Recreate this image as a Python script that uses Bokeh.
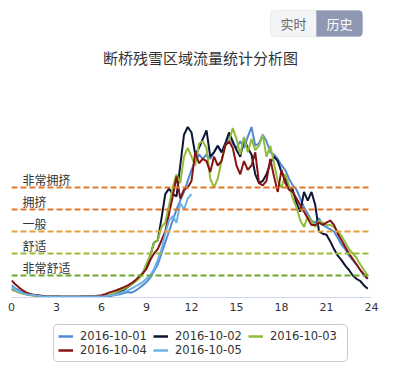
from bokeh.plotting import figure
from bokeh.layouts import column
from bokeh.models import Range1d, Span, Label, BoxAnnotation, Legend, LegendItem, FixedTicker
from bokeh.embed import file_html
from bokeh.resources import INLINE
from bokeh.core.properties import value

# ---------------- data ----------------
series_names = ["2016-10-01", "2016-10-02", "2016-10-03", "2016-10-04", "2016-10-05"]
series_colors = ["#5289d4", "#0c1633", "#92bb3c", "#861313", "#6cb2e6"]

# quarter-hour sample times 0:00 .. 23:45
hours = [i / 4 for i in range(96)]

# visitor flow (thousands)
flow_1001 = [0.55, 0.42, 0.32, 0.24, 0.18, 0.14, 0.11, 0.09, 0.07, 0.06, 0.05, 0.04, 0.04, 0.03,
             0.03, 0.03, 0.03, 0.03, 0.03, 0.03, 0.03, 0.03, 0.04, 0.04, 0.05, 0.06, 0.07, 0.09,
             0.12, 0.15, 0.2, 0.25, 0.22, 0.3, 0.42, 0.55, 0.7, 0.9, 1.2, 1.5,
             2.0, 2.5, 3.0, 3.5, 4.0, 4.4, 4.8, 5.3, 5.8, 6.2, 6.5, 6.3, 6.5, 6.3, 6.6, 6.9,
             6.6, 6.9, 7.4, 7.0, 6.8, 7.1, 6.8, 7.3, 7.75, 6.9, 7.0, 7.4, 7.1, 6.6, 6.5, 6.3,
             6.0, 5.8, 5.4, 5.1, 4.9, 4.5, 4.1, 3.8, 3.5, 3.4, 3.6, 3.3, 3.2, 3.1, 3.0, 2.7,
             2.4, 2.2, 1.9, 1.7, 1.5, 1.25, 1.0, 0.85]
flow_1002 = [0.38, 0.3, 0.24, 0.2, 0.15, 0.12, 0.1, 0.08, 0.06, 0.05, 0.04, 0.04, 0.03, 0.03,
             0.03, 0.03, 0.03, 0.03, 0.03, 0.03, 0.03, 0.03, 0.04, 0.04, 0.05, 0.06, 0.08, 0.12,
             0.2, 0.28, 0.36, 0.48, 0.6, 0.75, 0.9, 1.1, 1.45, 1.9, 2.5, 2.6,
             3.6, 4.7, 4.95, 4.7, 4.6, 6.0, 7.4, 7.75, 7.5, 6.5, 6.8, 7.2, 7.6, 6.4, 6.6, 6.9,
             6.6, 7.0, 7.5, 7.1, 6.7, 6.4, 7.2, 6.8, 6.5, 5.6, 5.2, 5.3, 5.6, 6.1, 6.4, 6.2,
             5.7, 5.4, 5.0, 4.9, 4.3, 3.9, 4.8, 4.4, 4.8, 4.2, 3.0, 2.9, 2.85, 2.55, 2.2, 1.9,
             1.7, 1.45, 1.25, 1.0, 0.85, 0.75, 0.55, 0.4]
flow_1003 = [0.4, 0.3, 0.22, 0.17, 0.13, 0.1, 0.08, 0.07, 0.06, 0.05, 0.04, 0.04, 0.03, 0.03,
             0.03, 0.03, 0.03, 0.03, 0.03, 0.03, 0.03, 0.03, 0.04, 0.05, 0.06, 0.08, 0.12, 0.18,
             0.25, 0.32, 0.4, 0.5, 0.6, 0.72, 0.85, 1.1, 1.55, 1.9, 2.5, 2.6,
             3.2, 3.4, 4.2, 5.0, 5.6, 5.2, 6.4, 6.8, 6.4, 6.0, 7.0, 7.1, 6.8, 5.4, 5.0, 5.4,
             6.2, 6.9, 7.1, 7.7, 7.2, 6.5, 7.3, 6.6, 7.2, 6.7, 6.9, 7.4, 6.4, 6.9, 6.1, 5.3,
             5.0, 5.6, 5.1, 4.5, 4.1, 3.5, 3.2, 3.7, 3.5, 3.2, 3.5, 3.4, 3.3, 3.3, 3.2, 3.0,
             2.8, 2.5, 2.2, 2.0, 1.8, 1.5, 1.25, 1.0]
flow_1004 = [0.78, 0.6, 0.45, 0.33, 0.22, 0.16, 0.12, 0.1, 0.08, 0.06, 0.05, 0.04, 0.04, 0.03,
             0.03, 0.03, 0.03, 0.03, 0.03, 0.04, 0.04, 0.05, 0.06, 0.08, 0.1, 0.15, 0.22, 0.28,
             0.33, 0.4, 0.47, 0.55, 0.65, 0.78, 0.95, 1.1, 1.3, 1.7, 2.0, 2.2,
             2.6, 3.0, 3.8, 4.6, 5.5, 4.5, 4.9, 5.0, 5.3, 6.6, 6.1, 6.3, 6.2, 5.7, 6.4, 6.0,
             6.2, 6.9, 7.1, 6.8, 6.0, 5.6, 6.2, 5.8, 6.0, 6.6, 5.2, 5.1, 5.3, 6.3, 5.5, 4.8,
             5.8, 5.2, 4.9, 4.8, 4.5, 4.2, 3.9, 3.6, 3.3, 3.3, 3.4, 3.3, 3.4, 3.5, 3.3, 2.9,
             2.6, 2.3, 2.0, 1.75, 1.5, 1.25, 1.05, 0.85]
flow_1005 = [0.48, 0.36, 0.27, 0.2, 0.15, 0.12, 0.1, 0.08, 0.06, 0.05, 0.04, 0.04, 0.03, 0.03,
             0.03, 0.03, 0.03, 0.03, 0.03, 0.03, 0.03, 0.03, 0.04, 0.04, 0.05, 0.06, 0.08, 0.1,
             0.15, 0.2, 0.26, 0.32, 0.4, 0.5, 0.6, 0.7, 0.85, 1.0, 1.3, 1.7,
             2.2, 2.9, 3.5, 3.7, 3.4, 4.3, 4.0, 4.5, 4.7]
series_values = [flow_1001, flow_1002, flow_1003, flow_1004, flow_1005]

level_labels = ["非常拥挤", "拥挤", "一般", "舒适", "非常舒适"]
level_values = [5, 4, 3, 2, 1]
level_colors = ["#e2772c", "#e2772c", "#e4a13c", "#9dbb37", "#6ea82c"]

x_ticks = [0, 3, 6, 9, 12, 15, 18, 21, 24]

title_text = "断桥残雪区域流量统计分析图"
button_labels = ["实时", "历史"]

CJK = "Noto Sans CJK SC"

# ---------------- main figure ----------------
# frame: x 11..371 px, y 0..297 px (22 px per thousand visitors)
p = figure(width=400, height=320, x_range=Range1d(0, 24), y_range=Range1d(0, 13.5),
           output_backend="svg", toolbar_location=None,
           min_border_left=11, min_border_right=29, min_border_top=0, min_border_bottom=23)
p.outline_line_color = None
p.xgrid.visible = False
p.ygrid.visible = False
p.yaxis.visible = False

ax = p.xaxis[0]
ax.ticker = FixedTicker(ticks=x_ticks)
ax.axis_line_color = "#ccd6eb"
ax.axis_line_width = 1
ax.major_tick_line_color = None
ax.major_tick_out = 0
ax.major_tick_in = 0
ax.minor_tick_line_color = None
ax.minor_tick_out = 0
ax.major_label_text_font = "DejaVu Sans"
ax.major_label_text_font_size = "11px"
ax.major_label_text_color = "#333333"
ax.major_label_standoff = 5

# comfort levels
for v, c in zip(level_values, level_colors):
    p.add_layout(Span(location=v, dimension="width", line_color=c, line_width=2, line_dash="6 3"))
p.text(x=[0.73] * len(level_labels), y=level_values, text=level_labels,
       text_font=value(CJK), text_font_size="12px", text_color="#333333",
       text_baseline="bottom", text_align="left", y_offset=0)

# series
for name, col, vals in zip(series_names, series_colors, series_values):
    p.line(hours[:len(vals)], vals, line_color=col, line_width=2)

# title
p.add_layout(Label(x=189, y=240, x_units="screen", y_units="screen", text=title_text,
                   text_font=CJK, text_font_size="15px", text_color="#333333",
                   text_align="center", text_baseline="middle"))

# button group
p.add_layout(BoxAnnotation(left=259, right=305, top=287, bottom=261,
                           left_units="screen", right_units="screen",
                           top_units="screen", bottom_units="screen",
                           fill_color="#f3f4f6", fill_alpha=1, line_color="#c3c8d3",
                           line_width=1, border_radius=(4, 0, 0, 4)))
p.add_layout(BoxAnnotation(left=305, right=351, top=287, bottom=261,
                           left_units="screen", right_units="screen",
                           top_units="screen", bottom_units="screen",
                           fill_color="#8e98b2", fill_alpha=1, line_color="#8e98b2",
                           line_width=1, border_radius=(0, 4, 4, 0)))
p.add_layout(Label(x=282, y=274, x_units="screen", y_units="screen", text=button_labels[0],
                   text_font=CJK, text_font_size="13px", text_color="#666666",
                   text_align="center", text_baseline="middle"))
p.add_layout(Label(x=328, y=274, x_units="screen", y_units="screen", text=button_labels[1],
                   text_font=CJK, text_font_size="13px", text_color="#ffffff",
                   text_align="center", text_baseline="middle"))

# ---------------- legend figure ----------------
lg = figure(width=400, height=58, x_range=Range1d(0, 1), y_range=Range1d(0, 1),
            output_backend="svg", toolbar_location=None, x_axis_type=None, y_axis_type=None,
            min_border_left=0, min_border_right=0, min_border_top=0, min_border_bottom=0)
lg.outline_line_color = None
lg.xgrid.visible = False
lg.ygrid.visible = False
items = []
for name, col in zip(series_names, series_colors):
    # swatch renderer kept outside the visible range; only its legend glyph shows
    r = lg.line([5, 6], [5, 5], line_color=col, line_width=2.5)
    items.append(LegendItem(label=name, renderers=[r]))

legend = Legend(items=items, ncols=3, orientation="horizontal", location=(42, 16),
                label_text_font="DejaVu Sans", label_text_font_size="11.5px",
                label_text_color="#333333", border_line_color="#999999", border_line_width=1,
                border_radius=5, padding=4, spacing=0, margin=0,
                glyph_width=15, glyph_height=14, label_height=14, label_width=73,
                label_standoff=7, background_fill_color="white", background_fill_alpha=1)
lg.add_layout(legend, "center")

layout = column(p, lg, spacing=0)
open("out.html", "w").write(file_html(layout, INLINE))
